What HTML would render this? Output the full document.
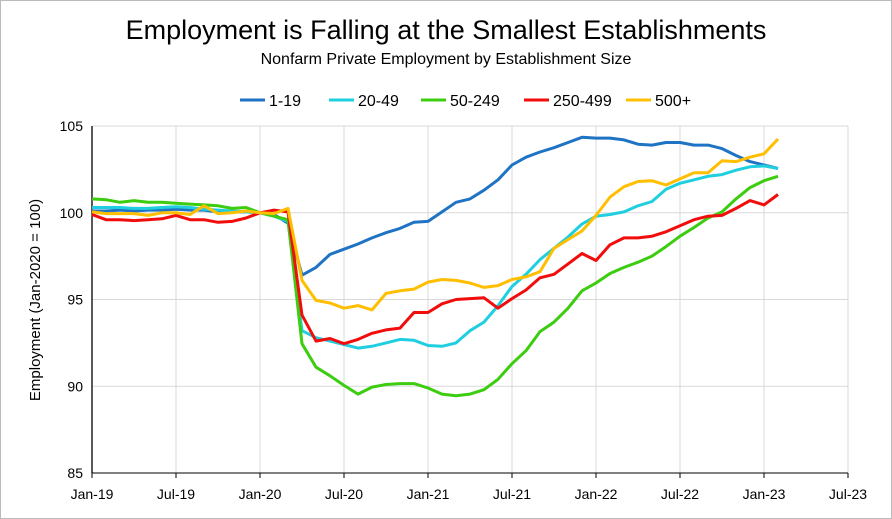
<!DOCTYPE html>
<html><head><meta charset="utf-8"><style>
body{margin:0;background:#fff;}
svg{display:block;font-family:"Liberation Sans",sans-serif;}
</style></head><body>
<svg id="chart" width="892" height="519" viewBox="0 0 892 519">
<rect x="0.5" y="0.5" width="891" height="518" fill="#fff" stroke="#bbbbbb"/>
<text x="446" y="39" text-anchor="middle" font-size="27" fill="#000">Employment is Falling at the Smallest Establishments</text>
<text x="446" y="64" text-anchor="middle" font-size="16" fill="#000">Nonfarm Private Employment by Establishment Size</text>
<g id="legend"></g>
<g id="grid"></g>
<g id="axes"></g>
<g id="series"></g>
<text transform="translate(40,300) rotate(-90)" text-anchor="middle" font-size="15" fill="#000">Employment (Jan-2020 = 100)</text>
</svg>
<script>
const xTickLabels=["Jan-19","Jul-19","Jan-20","Jul-20","Jan-21","Jul-21","Jan-22","Jul-22","Jan-23","Jul-23"];
const yTicks=[85,90,95,100,105];
const seriesNames=["1-19","20-49","50-249","250-499","500+"];
const seriesColors=["#1f73c4","#1fcfe0","#3ccc10","#f20d0d","#ffbf00"];
const s1_19=[100.1,100.1,100.15,100.1,100.15,100.15,100.2,100.15,100.15,100.05,100.05,100.05,100,99.9,99.4,96.4,96.85,97.6,97.9,98.2,98.55,98.85,99.1,99.45,99.5,100.05,100.6,100.8,101.3,101.9,102.75,103.2,103.5,103.75,104.05,104.35,104.3,104.3,104.2,103.95,103.9,104.05,104.05,103.9,103.9,103.7,103.3,102.95,102.75,102.55];
const s20_49=[100.3,100.3,100.3,100.25,100.25,100.3,100.35,100.3,100.2,100.15,100.1,100.05,100,99.8,99.5,93.2,92.8,92.6,92.4,92.2,92.3,92.5,92.7,92.65,92.35,92.3,92.5,93.2,93.7,94.65,95.75,96.45,97.3,97.95,98.6,99.35,99.8,99.9,100.05,100.4,100.65,101.35,101.7,101.9,102.1,102.2,102.45,102.65,102.7,102.55];
const s50_249=[100.8,100.75,100.6,100.7,100.6,100.6,100.55,100.5,100.45,100.4,100.25,100.3,100,99.8,99.6,92.45,91.1,90.6,90.05,89.55,89.95,90.1,90.15,90.15,89.9,89.55,89.45,89.55,89.8,90.4,91.3,92.05,93.15,93.7,94.5,95.5,95.95,96.5,96.85,97.15,97.5,98.05,98.65,99.15,99.7,100.05,100.8,101.45,101.85,102.1];
const s250_499=[99.9,99.6,99.6,99.55,99.6,99.65,99.85,99.6,99.6,99.45,99.5,99.7,100,100.15,100.05,94.1,92.6,92.75,92.45,92.7,93.05,93.25,93.35,94.25,94.25,94.75,95.0,95.05,95.1,94.5,95.05,95.55,96.25,96.45,97.05,97.65,97.25,98.15,98.55,98.55,98.65,98.9,99.25,99.6,99.8,99.85,100.25,100.7,100.45,101.05];
const s500=[100.05,99.95,99.95,99.95,99.85,100,100,99.9,100.4,99.95,100,100.1,100,99.95,100.25,96.1,94.95,94.8,94.5,94.65,94.4,95.35,95.5,95.6,96.0,96.15,96.1,95.95,95.7,95.8,96.15,96.3,96.6,97.95,98.45,98.95,99.85,100.9,101.5,101.8,101.85,101.6,101.95,102.3,102.3,103.0,102.95,103.2,103.4,104.25];
const allSeries=[s1_19,s20_49,s50_249,s250_499,s500];

const NS="http://www.w3.org/2000/svg";
const X0=92,X1=848,Y0=473,Y1=126;
const xScale=m=>X0+(X1-X0)*m/54;
const yScale=v=>Y0-(Y0-Y1)*(v-85)/20;
function mk(tag,attrs,parent){const e=document.createElementNS(NS,tag);for(const k in attrs)e.setAttribute(k,attrs[k]);parent.appendChild(e);return e;}
const grid=document.getElementById('grid'),axes=document.getElementById('axes'),ser=document.getElementById('series'),leg=document.getElementById('legend');
yTicks.forEach(v=>{
  const l=mk('line',{x1:X0,x2:X1,y1:yScale(v),y2:yScale(v),stroke:'#d9d9d9','stroke-width':1},grid);
  
  
  const t=mk('text',{x:X0-9,y:yScale(v)+5,'text-anchor':'end','font-size':14,fill:'#000'},axes);
  t.textContent=v;
  
  
});
xTickLabels.forEach((lab,i)=>{
  const x=xScale(i*6);
  if(i>0){const l=mk('line',{x1:x,x2:x,y1:Y1,y2:Y0,stroke:'#d9d9d9','stroke-width':1},grid);
  
  }
  const tk=mk('line',{x1:x,x2:x,y1:Y0,y2:Y0+5,stroke:'#000'},axes);
  
  
  const t=mk('text',{x:x,y:Y0+26,'text-anchor':'middle','font-size':14,fill:'#000'},axes);
  t.textContent=lab;
  
  
});
const ya=mk('line',{x1:X0,x2:X0,y1:Y1,y2:Y0,stroke:'#000','stroke-width':1.3},axes);


const xa=mk('line',{x1:X0,x2:X1,y1:Y0,y2:Y0,stroke:'#000','stroke-width':1},axes);


allSeries.forEach((s,i)=>{
  const pts=s.map((v,m)=>xScale(m).toFixed(1)+','+yScale(v).toFixed(1)).join(' ');
  const p=mk('polyline',{points:pts,fill:'none',stroke:seriesColors[i],'stroke-width':3,'stroke-linejoin':'round'},ser);
  
  
});
const legX=[240,329,421,524,626];
seriesNames.forEach((n,i)=>{
  const g=mk('g',{},leg);
  
  
  mk('line',{x1:legX[i],x2:legX[i]+25,y1:100,y2:100,stroke:seriesColors[i],'stroke-width':3},g);
  const t=mk('text',{x:legX[i]+29,y:106,'font-size':16,fill:'#000'},g);
  t.textContent=n;
});
</script>
</body></html>
